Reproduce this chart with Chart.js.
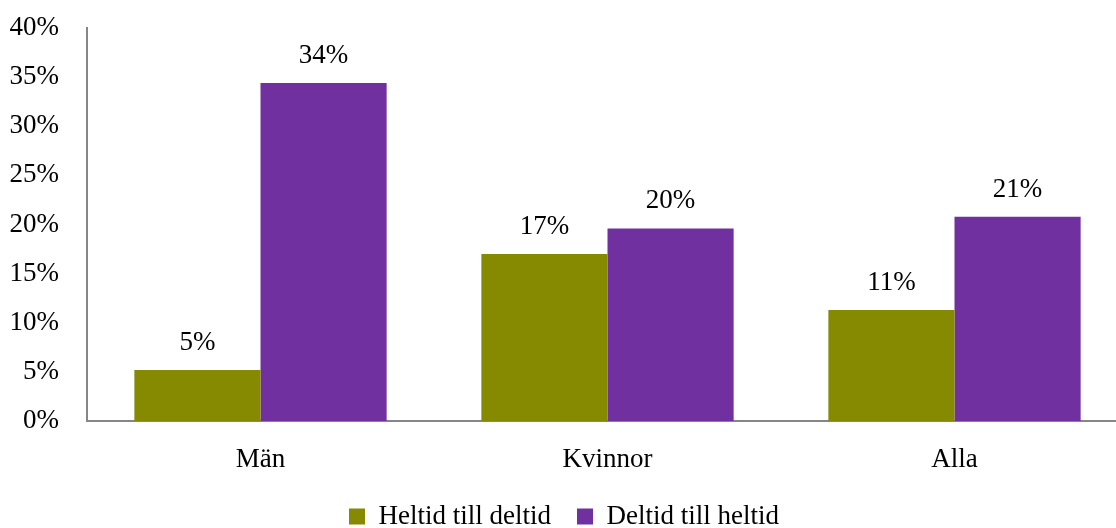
<!DOCTYPE html>
<html lang="sv">
<head>
<meta charset="utf-8">
<title>Övergångar mellan heltid och deltid</title>
<script src="https://cdn.jsdelivr.net/npm/chart.js@4/dist/chart.umd.min.js"></script>
<style>
    html, body { margin: 0; padding: 0; background: #fff; overflow: hidden; }
    #wrap { width: 1128px; height: 528px; }
</style>
</head>
<body>
<div id="wrap"><canvas id="chart" width="1128" height="528"></canvas></div>
<script>
// Kategorier och andelar (procent)
const kategorier = ['Män', 'Kvinnor', 'Alla'];
const heltidTillDeltid = [5.2, 17.0, 11.3];
const deltidTillHeltid = [34.4, 19.6, 20.8];
const yTicks = [0, 5, 10, 15, 20, 25, 30, 35, 40];

const FONT = "'Liberation Serif', 'DejaVu Serif', serif";
const FONT_SIZE = 27;
const AXIS_COLOR = '#868686';

// Skriver ut värdet (avrundat) ovanför varje stapel
const stapelEtiketter = {
    id: 'stapelEtiketter',
    afterDatasetsDraw(chart) {
        const ctx = chart.ctx;
        ctx.save();
        ctx.font = FONT_SIZE + 'px ' + FONT;
        ctx.fillStyle = '#000';
        ctx.textAlign = 'center';
        ctx.textBaseline = 'alphabetic';
        chart.data.datasets.forEach((ds, i) => {
            chart.getDatasetMeta(i).data.forEach((bar, j) => {
                ctx.fillText(Math.round(ds.data[j]) + '%', bar.x, bar.y - 20);
            });
        });
        ctx.restore();
    }
};

new Chart(document.getElementById('chart'), {
    type: 'bar',
    data: {
        labels: kategorier,
        datasets: [
            {
                label: 'Heltid till deltid',
                data: heltidTillDeltid,
                backgroundColor: '#858A00',
                borderWidth: 0
            },
            {
                label: 'Deltid till heltid',
                data: deltidTillHeltid,
                backgroundColor: '#7030A0',
                borderWidth: 0
            }
        ]
    },
    options: {
        responsive: false,
        animation: false,
        events: [],
        // legenden ligger delvis under nederkanten, därav negativ marginal
        layout: { padding: { top: 28, right: 0, bottom: -12, left: 0 } },
        datasets: {
            bar: { categoryPercentage: 0.727, barPercentage: 1.0 }
        },
        scales: {
            x: {
                grid: { display: false, drawTicks: false },
                border: { display: true, color: AXIS_COLOR, width: 2 },
                ticks: { color: '#000', font: { family: FONT, size: FONT_SIZE }, padding: 23 },
                afterFit: (scale) => { scale.height = 56; }
            },
            y: {
                min: 0,
                max: 40,
                grid: { display: false, drawTicks: false },
                border: { display: true, color: AXIS_COLOR, width: 2 },
                afterBuildTicks: (scale) => { scale.ticks = yTicks.map(v => ({ value: v })); },
                ticks: {
                    color: '#000',
                    font: { family: FONT, size: FONT_SIZE },
                    padding: 28,
                    callback: (v) => v + '%'
                },
                afterFit: (scale) => {
                    scale.width = 87;
                    scale.paddingTop = 0;
                    scale.paddingBottom = 0;
                }
            }
        },
        plugins: {
            legend: {
                position: 'bottom',
                labels: {
                    color: '#000',
                    font: { family: FONT, size: FONT_SIZE },
                    boxWidth: 16,
                    boxHeight: 16,
                    padding: 26
                }
            },
            tooltip: { enabled: false }
        }
    },
    plugins: [stapelEtiketter]
});
</script>
</body>
</html>
